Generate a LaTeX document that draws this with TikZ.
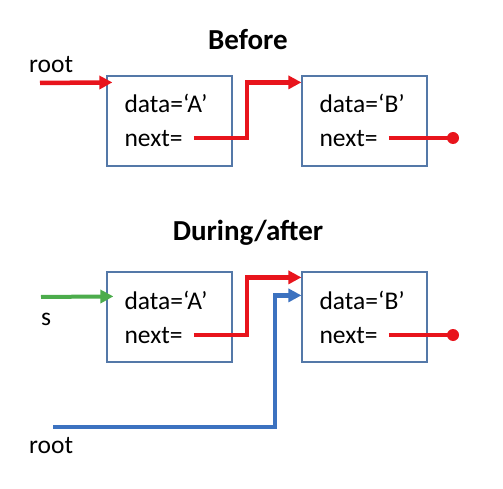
\documentclass[tikz,border=0pt]{standalone}
\usepackage{fontspec}
\setmainfont{Carlito}
\usepackage{xcolor}
\usetikzlibrary{arrows.meta}
\definecolor{ptrred}{RGB}{232,20,28}
\definecolor{ptrgreen}{RGB}{76,172,76}
\definecolor{ptrblue}{RGB}{60,114,192}
\definecolor{boxblue}{RGB}{84,120,168}

\begin{document}
\begin{tikzpicture}[x=1pt, y=-1pt]
    \tikzstyle{cell} = [rectangle, draw=boxblue, line width=1.2pt, minimum width=125pt, minimum height=90pt, inner sep=0pt]
    \tikzstyle{field} = [inner sep=0pt, anchor=base west, font=\fontsize{25.5}{30}\selectfont]
    \tikzstyle{title} = [inner sep=0pt, font=\fontsize{29}{34}\selectfont\bfseries]
    \tikzstyle{nil} = [circle, fill=ptrred, inner sep=0pt, minimum size=12pt]
    \tikzstyle{ptr} = [line width=4.5pt, -{Triangle[length=13pt,width=13pt]}]
    \useasboundingbox (0,0) rectangle (503,489);

    % Before
    \node [title] (before) at (248,40) {Before};
    \node [cell] (boxA1) at (169.5,121) {};
    \node [cell] (boxB1) at (364.5,121) {};
    \node [field] (dA1) at ([xshift=18pt,yshift=8.5pt]boxA1.west) {data=‘A’};
    \node [field] (nA1) at ([xshift=18pt,yshift=-26pt]boxA1.west) {next=};
    \node [field] (dB1) at ([xshift=18pt,yshift=8.5pt]boxB1.west) {data=‘B’};
    \node [field] (nB1) at ([xshift=18pt,yshift=-26pt]boxB1.west) {next=};
    \node [field] (root1) at (29,73) {root};
    \node [nil] (nilB1) at (453,138) {};
    \coordinate (r1) at (40,83);
    \coordinate (oA1) at ([xshift=11pt,yshift=9pt]nA1.base east);
    \coordinate (oB1) at ([xshift=11pt,yshift=9pt]nB1.base east);

    % During/after
    \node [title] (during) at (248,233) {During/after};
    \node [cell] (boxA2) at (169.5,317) {};
    \node [cell] (boxB2) at (364.5,317) {};
    \node [field] (dA2) at ([xshift=18pt,yshift=8pt]boxA2.west) {data=‘A’};
    \node [field] (nA2) at ([xshift=18pt,yshift=-26pt]boxA2.west) {next=};
    \node [field] (dB2) at ([xshift=18pt,yshift=8pt]boxB2.west) {data=‘B’};
    \node [field] (nB2) at ([xshift=18pt,yshift=-26pt]boxB2.west) {next=};
    \node [field] (s2) at (41,325) {s};
    \node [field] (root2) at (29,453) {root};
    \node [nil] (nilB2) at (453,335) {};
    \coordinate (s2a) at (41,297);
    \coordinate (r2) at (53,427);
    \coordinate (oA2) at ([xshift=11pt,yshift=8pt]nA2.base east);
    \coordinate (oB2) at ([xshift=11pt,yshift=8pt]nB2.base east);

    % Arrows
    \draw [ptr, ptrred] (r1) -- ([xshift=6pt,yshift=-7pt]boxA1.north west);
    \draw [ptr, ptrred] (oA1) -- ++(53,0) |- ([yshift=-7pt]boxB1.north west);
    \draw [line width=4.5pt, ptrred] (oB1) -- (nilB1.center);
    \draw [ptr, ptrgreen, line width=4pt] (s2a) -- ([xshift=7pt,yshift=-25pt]boxA2.north west);
    \draw [ptr, ptrred] (oA2) -- ++(53,0) |- ([yshift=-6pt]boxB2.north west);
    \draw [ptr, ptrblue] (r2) -- ++(222,0) |- ([yshift=-24pt]boxB2.north west);
    \draw [line width=4.5pt, ptrred] (oB2) -- (nilB2.center);
\end{tikzpicture}
\end{document}
